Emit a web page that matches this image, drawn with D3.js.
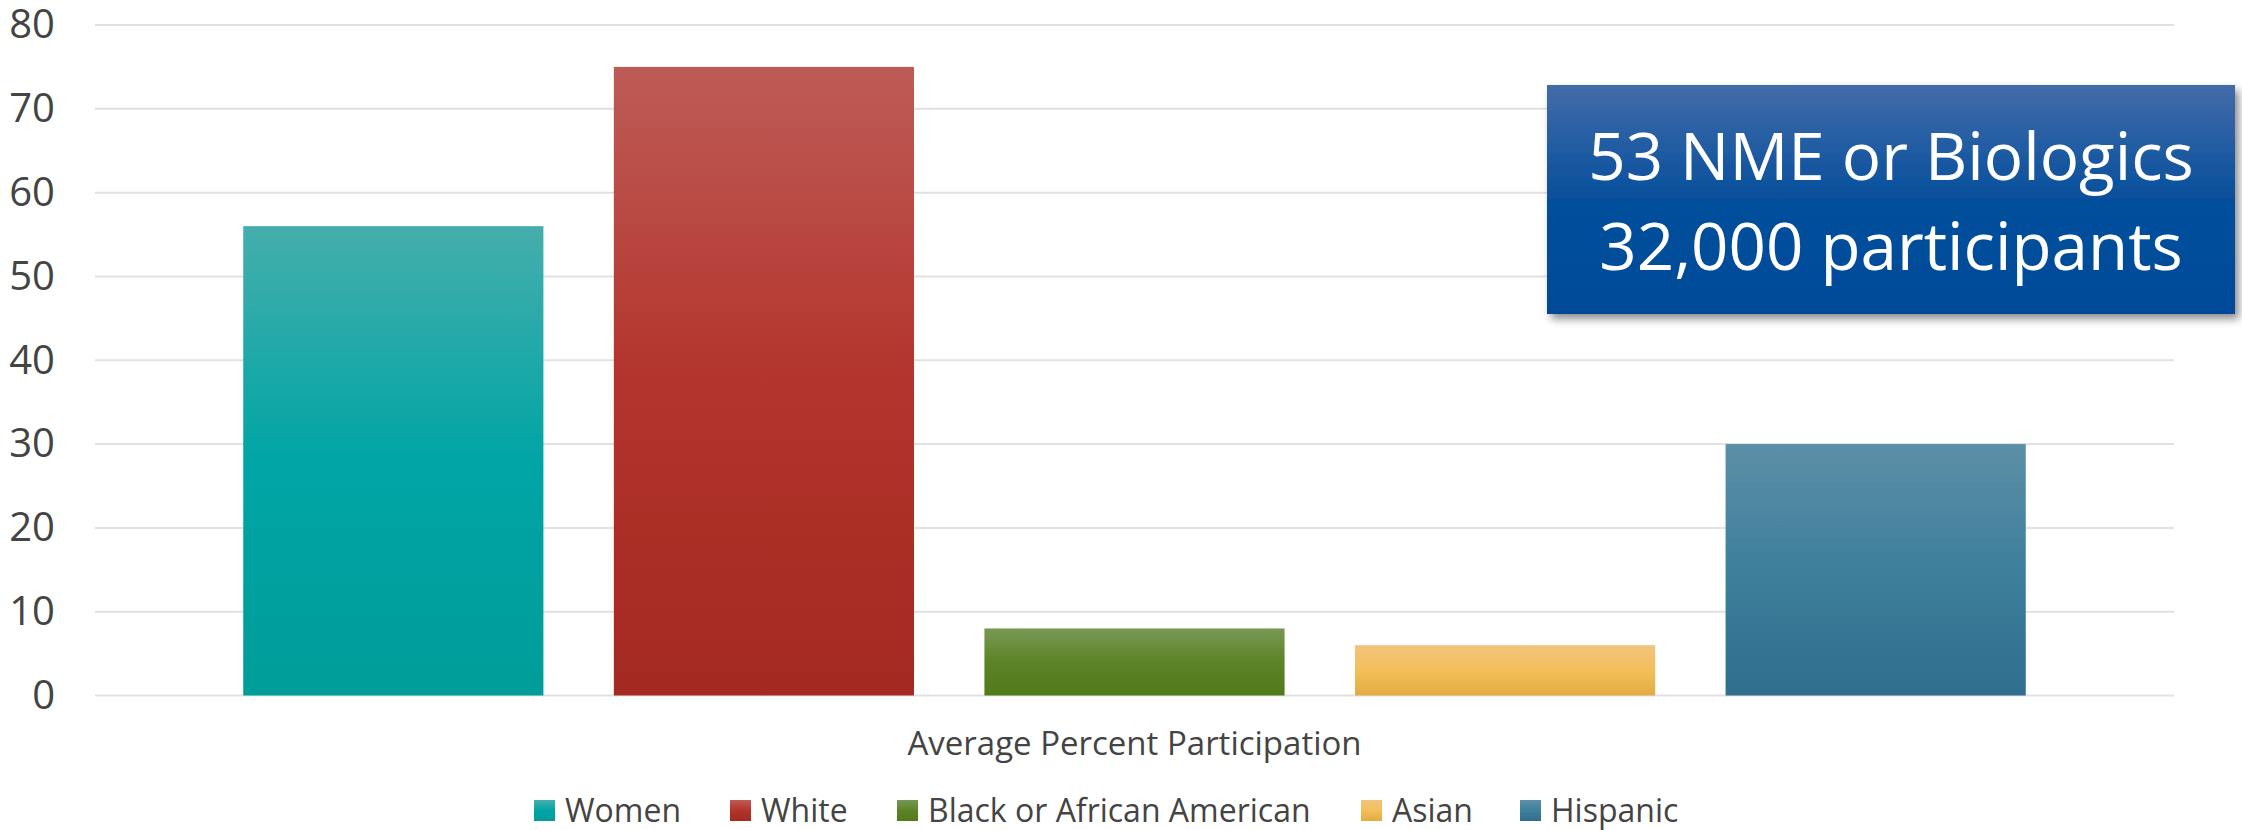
<!DOCTYPE html>
<html>
<head>
<meta charset="utf-8">
<script src="https://cdn.jsdelivr.net/npm/d3@7"></script>
<style>
  html, body { margin: 0; padding: 0; background: #ffffff; }
  svg { display: block; }
  text { font-family: "Open Sans", "Noto Sans", sans-serif; }
</style>
</head>
<body>
<svg id="chart" width="2242" height="830"></svg>
<script>
// Average percent participation by group
const groups = ["Women", "White", "Black or African American", "Asian", "Hispanic"];
const participation = [56, 75, 8, 6, 30];
const yTicks = [0, 10, 20, 30, 40, 50, 60, 70, 80];
const axisTitle = "Average Percent Participation";
const calloutLines = ["53 NME or Biologics", "32,000 participants"];

// gradient stops (top, middle, bottom) for each group
const barShades = [
  ["#45aeac", "#00a5a5", "#009d9a"],
  ["#be5b56", "#b3342c", "#a42920"],
  ["#789854", "#5c8427", "#517a1b"],
  ["#f1c47e", "#f4be59", "#e2ab43"],
  ["#5c8fa7", "#3e7f9c", "#2f6e8c"]
];

const W = 2242, H = 830;
const plot = { left: 95, right: 2174, top: 25, bottom: 695.5 };

const svg = d3.select("#chart");
const defs = svg.append("defs");

barShades.forEach((s, i) => {
  const g = defs.append("linearGradient")
    .attr("id", "bar-grad-" + i)
    .attr("x1", 0).attr("y1", 0).attr("x2", 0).attr("y2", 1);
  g.append("stop").attr("offset", "0%").attr("stop-color", s[0]);
  g.append("stop").attr("offset", "50%").attr("stop-color", s[1]);
  g.append("stop").attr("offset", "100%").attr("stop-color", s[2]);
});

const boxGrad = defs.append("linearGradient")
  .attr("id", "box-grad").attr("x1", 0).attr("y1", 0).attr("x2", 0).attr("y2", 1);
boxGrad.append("stop").attr("offset", "0%").attr("stop-color", "#436ba9");
boxGrad.append("stop").attr("offset", "50%").attr("stop-color", "#064f9c");
boxGrad.append("stop").attr("offset", "100%").attr("stop-color", "#004a98");

const shadow = defs.append("filter").attr("id", "box-shadow")
  .attr("x", "-10%").attr("y", "-10%").attr("width", "120%").attr("height", "130%");
shadow.append("feDropShadow")
  .attr("dx", 4).attr("dy", 5).attr("stdDeviation", 4)
  .attr("flood-color", "#000").attr("flood-opacity", 0.45);

const y = d3.scaleLinear().domain([0, 80]).range([plot.bottom, plot.top]);
const x = d3.scaleBand().domain(groups)
  .range([plot.left, plot.right])
  .paddingInner(0.19).paddingOuter(0.4);

// horizontal gridlines
svg.append("g").selectAll("line")
  .data(yTicks)
  .join("line")
  .attr("x1", plot.left).attr("x2", plot.right)
  .attr("y1", d => y(d)).attr("y2", d => y(d))
  .attr("stroke", "#e1e1e1").attr("stroke-width", 2);

// y axis labels
const yAxis = d3.axisLeft(y).tickValues(yTicks).tickSize(0).tickPadding(0);
const yG = svg.append("g")
  .attr("transform", "translate(55,0)")
  .call(yAxis);
yG.select(".domain").remove();
yG.selectAll("text")
  .attr("font-family", "Open Sans, Noto Sans, sans-serif")
  .attr("font-size", 40)
  .attr("fill", "#444444");

// bars
svg.append("g").selectAll("rect")
  .data(groups.map((g, i) => ({ g, v: participation[i], i })))
  .join("rect")
  .attr("x", d => x(d.g))
  .attr("width", x.bandwidth())
  .attr("y", d => y(d.v))
  .attr("height", d => y(0) - y(d.v))
  .attr("fill", d => `url(#bar-grad-${d.i})`);

// category axis title
svg.append("text")
  .attr("x", (plot.left + plot.right) / 2)
  .attr("y", 755)
  .attr("text-anchor", "middle")
  .attr("font-size", 33)
  .attr("fill", "#444444")
  .text(axisTitle);

// legend
const legendX = [534, 730, 897, 1361, 1520];
const legend = svg.append("g");
groups.forEach((g, i) => {
  legend.append("rect")
    .attr("x", legendX[i]).attr("y", 800)
    .attr("width", 21).attr("height", 21)
    .attr("fill", `url(#bar-grad-${i})`);
  legend.append("text")
    .attr("x", legendX[i] + 31).attr("y", 822)
    .attr("font-size", 32)
    .attr("fill", "#444444")
    .text(g);
});

// callout box
const box = { x: 1547, y: 85, w: 688, h: 229 };
svg.append("rect")
  .attr("x", box.x).attr("y", box.y)
  .attr("width", box.w).attr("height", box.h)
  .attr("fill", "url(#box-grad)")
  .attr("filter", "url(#box-shadow)");
calloutLines.forEach((t, i) => {
  svg.append("text")
    .attr("x", box.x + box.w / 2)
    .attr("y", 180 + i * 90)
    .attr("text-anchor", "middle")
    .attr("font-size", 65.5)
    .attr("fill", "#ffffff")
    .text(t);
});
</script>
</body>
</html>
